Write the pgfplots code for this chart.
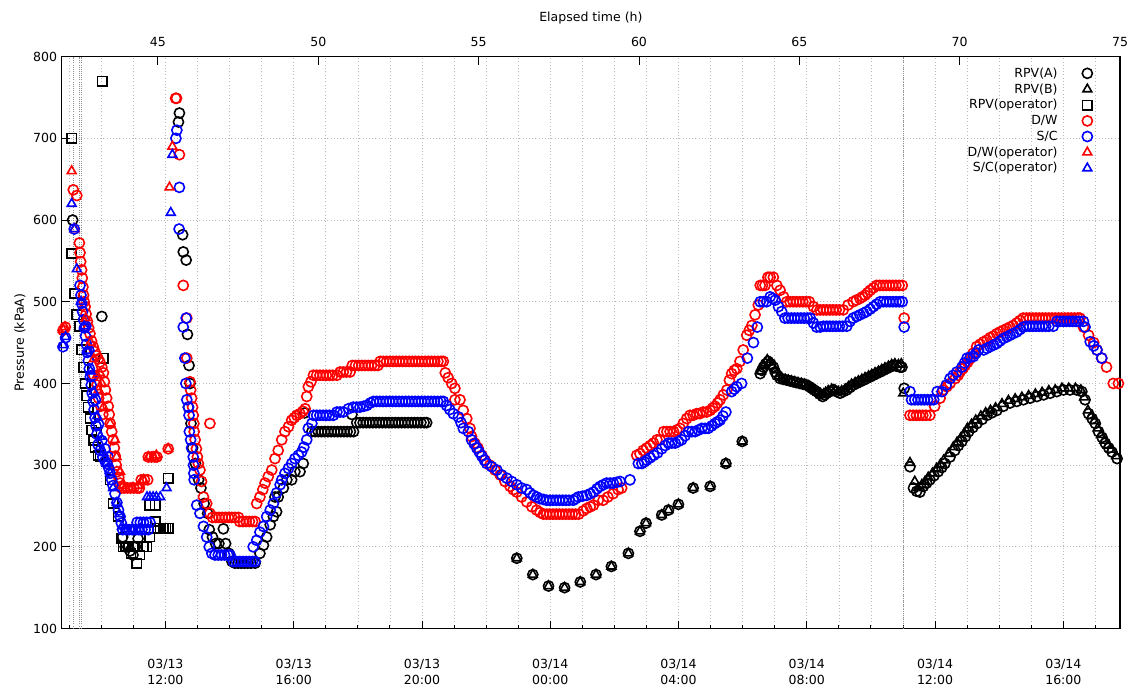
\documentclass[border=0pt]{standalone}
\usepackage{pgfplots}
\pgfplotsset{compat=1.18}
\usepackage{fontspec}
\setmainfont{DejaVu Sans}

\begin{document}
\begin{tikzpicture}[font=\fontsize{9.4}{11.6}\selectfont]
\pgfplotsset{
  every axis/.append style={scale only axis, width=793.7pt, height=428.9pt,
    xmin=42, xmax=75, ymin=100, ymax=800,
    /pgf/number format/assume math mode=true},
  pts/.style={only marks, line width=1.2pt, mark size=3.8pt, mark options={solid}},
}
\begin{axis}[
  name=main,
  axis line style={line width=0.8pt, black},
  tick style={line width=0.7pt, black},
  tick align=inside, major tick length=6pt, minor tick length=3pt,
  xtick pos=left, ytick pos=left,
  xtick={45.2333,49.2333,53.2333,57.2333,61.2333,65.2333,69.2333,73.2333},
  xticklabels={{03/13\\12:00},{03/13\\16:00},{03/13\\20:00},{03/14\\00:00},
               {03/14\\04:00},{03/14\\08:00},{03/14\\12:00},{03/14\\16:00}},
  minor xtick={42.2333,43.2333,44.2333,46.2333,47.2333,48.2333,50.2333,51.2333,52.2333,
               54.2333,55.2333,56.2333,58.2333,59.2333,60.2333,62.2333,63.2333,64.2333,
               66.2333,67.2333,68.2333,70.2333,71.2333,72.2333,74.2333},
  ytick={100,200,...,800},
  xmajorgrids, xminorgrids, ymajorgrids,
  grid style={dotted, line width=0.5pt, gray!55},
  minor grid style={dotted, line width=0.5pt, gray!55},
  xticklabel style={align=center, anchor=center, yshift=-32.6pt},
  ylabel={Pressure (kPaA)},
  ylabel style={at={(axis description cs:-0.0394,0.5)}, anchor=center},
  legend style={draw=none, fill=none, at={(1,1)}, anchor=north east,
    xshift=-17.5pt, yshift=-4pt, row sep=-0.7pt, column sep=16.5pt},
  legend cell align=right, legend plot pos=right,
]
% event lines
\addplot[forget plot, densely dotted, black!45, line width=0.6pt] coordinates {(42.36,100) (42.36,800)};
\addplot[forget plot, densely dotted, black!45, line width=0.6pt] coordinates {(42.55,100) (42.55,800)};
\addplot[forget plot, densely dotted, black!45, line width=0.6pt] coordinates {(42.62,100) (42.62,800)};
\addplot[forget plot, densely dotted, black!45, line width=0.6pt] coordinates {(68.24,100) (68.24,800)};

% RPV(A)
\addplot[pts, black, mark=o] coordinates {
(42.34,600) (43.25,482) (43.90,212) (43.98,200) (44.06,200) (44.13,195) (44.22,190) (44.30,200) (44.38,210)
(45.64,720) (45.67,731) (45.77,582) (45.79,561) (45.88,551) (45.92,460) (45.97,422) (46.00,400) (45.95,371)
(46.03,351) (46.08,321) (46.17,302) (46.27,282) (46.34,272) (46.44,253) (46.55,241) (46.60,221) (46.70,212)
(46.80,204) (46.90,204) (47.04,222) (47.11,204) (47.21,192) (47.31,182) (47.40,180) (47.50,180) (47.60,180)
(47.70,180) (47.80,180) (47.90,180) (48.03,180) (48.18,192) (48.29,202) (48.39,212) (48.50,227) (48.60,237)
(48.70,243) (48.65,261) (48.75,261) (48.91,272) (49.02,282) (49.17,282) (49.27,292) (49.43,292) (49.53,302)
(49.58,364)
(49.80,341) (49.90,341) (50.00,341) (50.10,341) (50.20,341) (50.30,341) (50.40,341) (50.50,341) (50.60,341)
(50.70,341) (50.80,341) (50.90,341) (51.00,341) (51.10,341) (51.05,362) (51.20,352) (51.30,352) (51.40,352)
(51.50,352) (51.60,352) (51.70,352) (51.80,352) (51.90,352) (52.00,352) (52.10,352) (52.20,352) (52.30,352)
(52.40,352) (52.50,352) (52.60,352) (52.70,352) (52.80,352) (52.90,352) (53.00,352) (53.10,352) (53.20,352)
(53.30,352) (53.38,352)
(56.19,186) (56.69,166) (57.18,152) (57.68,150) (58.17,157) (58.66,166) (59.14,176) (59.67,192) (60.03,219)
(60.22,229) (60.71,239) (60.92,245) (61.23,252) (61.69,272) (62.22,274) (62.71,302) (63.22,329)
(63.78,412) (63.83,416) (63.88,420) (63.95,424) (64.03,427) (64.11,424) (64.19,420) (64.25,414) (64.30,410)
(64.40,406) (64.50,405) (64.61,404) (64.71,403) (64.81,402) (64.91,401) (65.02,400) (65.12,399) (65.23,398)
(65.31,396) (65.39,394) (65.46,392) (65.54,390) (65.63,387) (65.73,384) (65.79,386) (65.85,388) (65.95,390)
(66.06,392) (66.16,390) (66.27,388) (66.37,390) (66.48,392) (66.58,395) (66.68,398) (66.79,400) (66.89,402)
(67.00,404) (67.10,406) (67.21,408) (67.31,410) (67.41,412) (67.52,414) (67.62,416) (67.72,418) (67.83,420)
(67.93,422) (68.04,421) (68.14,420) (68.20,420)
(68.27,394)
(68.45,298) (68.56,272) (68.66,268) (68.76,267) (68.87,274) (68.97,278) (69.07,282) (69.20,287) (69.33,292)
(69.44,297) (69.54,302) (69.70,310) (69.85,318) (69.96,324) (70.07,329) (70.18,335) (70.28,341) (70.41,346)
(70.54,351) (70.70,356) (70.85,361) (71.00,364) (71.16,367) (71.36,372) (71.57,376) (71.78,378) (71.99,380)
(72.20,382) (72.41,384) (72.62,386) (72.82,388) (73.03,390) (73.24,392) (73.44,392) (73.65,392) (73.81,390)
(73.91,380) (74.02,363) (74.13,357) (74.23,351) (74.33,341) (74.44,334) (74.54,327) (74.65,321) (74.75,316)
(74.91,308)
};
% RPV(B)
\addplot[pts, black, mark=triangle] coordinates {
(56.19,186) (56.69,166) (57.18,152) (57.68,150) (58.17,157) (58.66,166) (59.14,176) (59.67,192) (60.03,219)
(60.22,229) (60.71,239) (60.92,245) (61.23,252) (61.69,272) (62.22,274) (62.71,302) (63.22,329)
(63.80,415) (63.90,422) (64.00,429) (64.08,426) (64.16,421) (64.25,416) (64.35,409) (64.45,407) (64.56,405)
(64.66,404) (64.76,403) (64.86,402) (64.96,401) (65.07,400) (65.17,399) (65.28,397) (65.36,395) (65.44,393)
(65.50,391) (65.58,389) (65.68,386) (65.76,387) (65.82,389) (65.90,391) (66.01,393) (66.11,392) (66.22,390)
(66.32,391) (66.43,393) (66.53,396) (66.63,399) (66.74,401) (66.84,403) (66.95,405) (67.05,407) (67.16,409)
(67.26,411) (67.36,413) (67.47,415) (67.57,417) (67.67,419) (67.78,421) (67.88,423) (67.98,424) (68.09,423)
(68.18,424)
(68.24,388)
(68.45,303) (68.60,280) (68.70,272) (68.82,276) (68.92,280) (69.02,285) (69.15,290) (69.28,296) (69.40,301)
(69.50,306) (69.65,314) (69.80,322) (69.92,328) (70.03,333) (70.14,339) (70.24,345) (70.37,350) (70.50,355)
(70.66,360) (70.81,364) (70.96,367) (71.12,370) (71.32,375) (71.52,379) (71.73,381) (71.94,383) (72.15,385)
(72.36,387) (72.57,389) (72.78,391) (72.98,392) (73.19,394) (73.40,394) (73.61,394) (73.78,392) (73.88,383)
(74.00,367) (74.10,360) (74.20,354) (74.30,345) (74.41,337) (74.51,330) (74.62,324) (74.72,319) (74.88,311)
};
% RPV(operator)
\addplot[pts, black, mark=square, mark size=3.5pt] coordinates {
(42.31,700) (42.31,559) (42.41,510) (42.47,484) (42.55,470) (42.62,441) (42.68,420) (42.73,400) (42.78,385)
(42.83,371) (42.89,357) (42.94,343) (43.00,330) (43.04,322) (43.14,312) (43.10,340) (43.20,310) (43.26,770)
(43.30,431) (43.51,282) (43.61,253) (43.76,237) (43.87,210) (43.92,200) (44.00,200) (44.08,200) (44.16,192)
(44.24,200) (44.34,180) (44.44,190) (44.55,200) (44.65,200) (44.75,212) (44.75,251) (44.91,251) (44.91,231)
(45.00,223) (45.07,223) (45.17,223) (45.25,223) (45.32,223) (45.32,284)
};
% D/W
\addplot[pts, red, mark=o] coordinates {
(42.04,465) (42.11,469) (42.36,637) (42.47,630) (42.55,572) (42.57,560) (42.59,549) (42.62,539) (42.64,529)
(42.66,518) (42.68,508) (42.70,500) (42.73,494) (42.76,485) (42.80,476) (42.84,468) (42.88,461) (42.93,452)
(42.98,445) (43.03,439) (43.08,434) (43.14,430) (43.19,426) (43.25,420) (43.30,413) (43.33,402) (43.36,392)
(43.40,382) (43.45,372) (43.48,362) (43.51,351) (43.56,341) (43.60,331) (43.64,321) (43.67,311) (43.70,300)
(43.73,292) (43.78,285) (43.82,278) (43.86,272) (43.95,272) (44.05,272) (44.15,272) (44.25,272) (44.35,272)
(44.42,272) (44.48,282) (44.58,282) (44.68,282) (44.70,310) (44.80,310) (44.90,310) (44.97,310) (45.32,320)
(43.00,410) (43.10,398) (43.15,382) (43.22,372) (43.28,362)
(45.55,749) (45.58,749) (45.67,680) (45.79,520) (45.90,480) (45.90,431) (46.00,402) (46.02,392) (46.05,382)
(46.08,371) (46.10,361) (46.12,351) (46.13,341) (46.16,331) (46.20,320) (46.23,310) (46.26,302) (46.31,294)
(46.36,280) (46.42,261) (46.52,253) (46.62,351) (46.62,241) (46.70,236) (46.80,236) (46.90,236) (47.00,236)
(47.10,236) (47.20,236) (47.30,236) (47.40,236) (47.51,236) (47.55,231) (47.65,231) (47.75,231) (47.85,231)
(47.95,231) (48.03,231)
(48.08,253) (48.18,261) (48.27,270) (48.34,278) (48.44,286) (48.55,294) (48.65,308) (48.75,318) (48.86,331)
(48.96,341) (49.07,347) (49.17,355) (49.25,358) (49.33,361) (49.43,363) (49.52,366) (49.59,369) (49.64,384)
(49.69,396) (49.77,402) (49.85,410) (49.95,410) (50.05,410) (50.15,410) (50.25,410) (50.35,410) (50.45,410)
(50.58,410) (50.68,414) (50.78,414) (50.88,414) (50.99,414) (51.06,422) (51.16,422) (51.26,422) (51.36,422)
(51.46,422) (51.56,422) (51.66,422) (51.76,422) (51.86,422) (51.93,427) (52.03,427) (52.13,427) (52.23,427)
(52.33,427) (52.43,427) (52.53,427) (52.63,427) (52.73,427) (52.83,427) (52.93,427) (53.03,427) (53.13,427)
(53.23,427) (53.33,427) (53.43,427) (53.53,427) (53.63,427) (53.73,427) (53.83,427) (53.90,427)
(53.96,413) (54.05,407) (54.16,400) (54.26,394) (54.26,380) (54.42,380) (54.52,367) (54.63,357) (54.73,345)
(54.78,335) (54.88,327) (54.98,321) (55.10,312) (55.20,306) (55.35,300) (55.51,294) (55.67,288) (55.82,280)
(55.98,274) (56.08,270) (56.19,267) (56.34,261) (56.50,255) (56.66,249) (56.81,245) (56.92,242) (57.02,240)
(57.12,240) (57.22,240) (57.32,240) (57.42,240) (57.52,240) (57.62,240) (57.72,240) (57.82,240) (57.92,240)
(58.02,240) (58.12,240) (58.26,244) (58.37,247) (58.48,249) (58.58,251) (58.73,257) (58.88,257) (59.03,261)
(59.19,265) (59.35,270) (59.46,272)
(59.93,312) (60.03,314) (60.13,318) (60.24,321) (60.35,324) (60.45,327) (60.56,331) (60.66,331) (60.77,341)
(60.87,341) (60.97,341) (61.08,341) (61.18,343) (61.28,345) (61.38,351) (61.49,357) (61.59,361) (61.69,361)
(61.80,363) (61.90,363) (62.00,365) (62.11,365) (62.22,367) (62.30,370) (62.37,372) (62.45,376) (62.53,380)
(62.63,386) (62.74,392) (62.82,404) (62.89,412) (62.97,416) (63.05,418) (63.15,427) (63.25,441) (63.36,459)
(63.44,465) (63.52,471) (63.62,484) (63.72,496) (63.78,520) (63.85,520) (63.93,520) (64.02,530) (64.09,530)
(64.19,530) (64.30,520) (64.40,514) (64.51,506) (64.61,500) (64.71,500) (64.81,500) (64.91,500) (65.01,500)
(65.11,500) (65.21,500) (65.31,500) (65.44,494) (65.55,490) (65.65,490) (65.75,490) (65.85,490) (65.95,490)
(66.05,490) (66.15,490) (66.25,490) (66.37,490) (66.52,496) (66.68,500) (66.78,502) (66.89,504) (66.97,506)
(67.05,508) (67.13,511) (67.21,514) (67.31,517) (67.41,520) (67.51,520) (67.61,520) (67.71,520) (67.81,520)
(67.91,520) (68.01,520) (68.11,520) (68.21,520)
(68.27,480)
(68.45,361) (68.55,361) (68.65,361) (68.75,361) (68.85,361) (68.95,361) (69.07,361) (69.22,372) (69.39,382)
(69.49,392) (69.60,396) (69.70,400) (69.86,406) (69.95,410) (70.01,414) (70.10,418) (70.17,422) (70.25,426)
(70.32,430) (70.42,437) (70.53,445) (70.64,448) (70.75,451) (70.85,453) (70.95,456) (71.05,458) (71.16,461)
(71.26,463) (71.36,465) (71.47,467) (71.57,469) (71.67,471) (71.78,474) (71.88,477) (71.98,480) (72.08,480)
(72.18,480) (72.28,480) (72.38,480) (72.48,480) (72.58,480) (72.68,480) (72.78,480) (72.88,480) (72.98,480)
(73.08,480) (73.18,480) (73.28,480) (73.38,480) (73.48,480) (73.58,480) (73.68,480) (73.75,480) (73.86,469)
(74.02,459) (74.18,450) (74.28,441) (74.43,431) (74.58,420) (74.79,400) (74.95,400)
};
% S/C
\addplot[pts, blue, mark=o] coordinates {
(42.04,445) (42.12,456) (42.39,589) (42.57,520) (42.60,508) (42.62,498) (42.65,488) (42.68,478) (42.71,468)
(42.74,458) (42.77,448) (42.80,438) (42.83,428) (42.86,418) (42.89,408) (42.92,398) (42.95,388) (42.98,378)
(43.01,368) (43.04,358) (43.07,348) (43.10,338) (43.13,325) (43.20,318) (43.28,310) (43.35,305) (43.41,302)
(43.47,296) (43.51,290) (43.56,282) (43.60,275) (43.66,265) (43.72,254) (43.77,245) (43.82,237) (43.86,229)
(43.90,221) (44.00,221) (44.10,221) (44.20,221) (44.30,221) (44.40,221) (44.50,221) (44.60,221) (44.70,221)
(44.35,230) (44.45,230) (44.55,230) (44.65,230) (44.75,230)
(42.75,470) (42.85,440) (42.95,410) (43.05,380) (43.15,350) (43.25,330) (43.35,320) (43.45,310)
(45.56,700) (45.59,710) (45.67,640) (45.66,589) (45.79,469) (45.84,431) (45.88,480) (45.87,400) (45.90,380)
(45.95,371) (45.97,361) (45.98,341) (46.02,331) (46.05,321) (46.10,310) (46.11,300) (46.12,290) (46.13,282)
(46.21,251) (46.31,241) (46.42,225) (46.52,212) (46.60,200) (46.68,192) (46.78,190) (46.88,190) (46.98,190)
(47.08,190) (47.18,190) (47.25,190) (47.35,182) (47.45,182) (47.55,182) (47.65,182) (47.75,182) (47.85,182)
(47.95,182) (48.03,182)
(47.97,200) (48.08,208) (48.18,218) (48.29,225) (48.39,237) (48.50,245) (48.60,253) (48.70,266) (48.81,276)
(48.86,282) (48.96,290) (49.07,296) (49.17,302) (49.27,308) (49.38,312) (49.48,316) (49.55,322) (49.64,331)
(49.69,345) (49.80,351) (49.85,361) (49.95,361) (50.05,361) (50.15,361) (50.25,361) (50.35,361) (50.47,361)
(50.58,365) (50.68,365) (50.78,365) (50.94,369) (51.09,371) (51.20,371) (51.30,371) (51.41,372) (51.51,373)
(51.62,376) (51.72,378) (51.82,378) (51.92,378) (52.02,378) (52.12,378) (52.22,378) (52.32,378) (52.42,378)
(52.52,378) (52.62,378) (52.72,378) (52.82,378) (52.92,378) (53.02,378) (53.12,378) (53.22,378) (53.32,378)
(53.42,378) (53.52,378) (53.62,378) (53.72,378) (53.82,378) (53.90,378)
(54.00,373) (54.10,368) (54.21,363) (54.37,359) (54.45,352) (54.52,345) (54.68,341) (54.78,331) (54.86,326)
(54.94,321) (55.02,316) (55.10,311) (55.18,306) (55.25,302) (55.41,298) (55.57,294) (55.72,288) (55.88,284)
(56.03,280) (56.19,276) (56.34,272) (56.50,270) (56.60,266) (56.71,263) (56.81,261) (56.91,259) (57.02,258)
(57.12,257) (57.22,257) (57.32,257) (57.42,257) (57.52,257) (57.62,257) (57.72,257) (57.82,257) (57.95,257)
(58.03,259) (58.11,261) (58.24,262) (58.37,263) (58.48,265) (58.58,267) (58.69,271) (58.79,274) (58.89,276)
(58.99,278) (59.10,278) (59.20,278) (59.31,279) (59.41,280) (59.72,282)
(59.98,302) (60.09,302) (60.17,304) (60.24,306) (60.35,309) (60.46,312) (60.58,315) (60.71,320) (60.82,324)
(60.92,327) (61.02,327) (61.13,327) (61.23,329) (61.33,331) (61.44,336) (61.54,341) (61.65,341) (61.75,341)
(61.86,343) (61.96,345) (62.06,345) (62.16,345) (62.27,348) (62.37,351) (62.45,353) (62.53,355) (62.62,360)
(62.71,365) (62.89,390) (62.97,393) (63.05,396) (63.20,400) (63.38,431) (63.57,450) (63.69,469) (63.78,500)
(63.88,500) (63.98,500) (64.09,506) (64.17,504) (64.25,502) (64.35,494) (64.45,488) (64.55,480) (64.65,480)
(64.75,480) (64.85,480) (64.95,480) (65.05,480) (65.15,480) (65.25,480) (65.34,480) (65.44,474) (65.54,469)
(65.65,469) (65.75,470) (65.85,470) (65.95,470) (66.05,470) (66.15,470) (66.25,470) (66.35,470) (66.48,470)
(66.58,476) (66.68,480) (66.79,482) (66.89,484) (67.00,486) (67.10,488) (67.21,491) (67.31,494) (67.41,497)
(67.52,500) (67.62,500) (67.72,500) (67.82,500) (67.92,500) (68.02,500) (68.12,500) (68.21,500)
(68.27,469)
(68.45,390) (68.50,380) (68.60,380) (68.70,380) (68.80,380) (68.90,380) (69.00,380) (69.10,380) (69.19,380)
(69.30,390) (69.45,390) (69.58,398) (69.70,406) (69.80,410) (69.91,414) (70.07,420) (70.15,425) (70.23,431)
(70.33,432) (70.43,433) (70.51,437) (70.59,441) (70.75,441) (70.85,443) (70.95,445) (71.06,447) (71.16,449)
(71.26,452) (71.36,455) (71.47,457) (71.57,459) (71.67,461) (71.78,463) (71.88,466) (71.98,469) (72.08,470)
(72.18,470) (72.28,470) (72.38,470) (72.48,470) (72.58,470) (72.68,470) (72.78,470) (72.92,470) (73.03,476)
(73.13,476) (73.23,476) (73.33,476) (73.43,476) (73.53,476) (73.63,476) (73.73,476) (73.86,476) (73.91,469)
(74.07,451) (74.18,446) (74.28,441) (74.43,431)
};
% D/W(operator)
\addplot[pts, red, mark=triangle] coordinates {
(42.04,466) (42.10,469) (42.31,660) (42.40,589) (42.75,480) (42.90,450) (43.00,430) (43.10,410) (43.19,413)
(43.25,400) (43.15,392) (43.30,371) (43.51,351) (43.66,331) (43.71,310) (43.82,292) (43.90,275) (44.00,272)
(44.20,272) (44.40,275) (44.55,282) (44.70,310) (44.85,310) (44.95,312) (45.32,320) (45.36,640) (45.45,690)
};
% S/C(operator)
\addplot[pts, blue, mark=triangle] coordinates {
(42.04,447) (42.12,457) (42.31,620) (42.39,589) (42.47,540) (42.60,500) (42.70,470) (42.80,440) (42.90,415)
(43.00,390) (43.10,360) (43.20,335) (43.30,315) (43.40,302) (43.51,290) (43.60,272) (43.72,254) (43.80,240)
(43.88,225) (44.00,222) (44.20,222) (44.45,222) (44.66,261) (44.75,261) (44.85,261) (44.95,261) (45.07,261)
(45.27,272) (45.40,609) (45.45,680)
};
\legend{RPV(A),RPV(B),RPV(operator),D/W,S/C,D/W(operator),S/C(operator)}
\end{axis}
\begin{axis}[
  axis x line*=top, axis y line=none,
  axis line style={line width=0.8pt, black},
  tick style={line width=0.7pt, black},
  tick align=inside, major tick length=6pt,
  xtick={45,50,...,75},
  xticklabel style={anchor=center, yshift=11.25pt},
  xlabel={Elapsed time (h)},
  xlabel style={at={(axis description cs:0.5,1.067)}, anchor=center},
]
\end{axis}
\pgfresetboundingbox
\path[use as bounding box] ([shift={(-46.3pt,-43.1pt)}]main.south west) rectangle ([shift={(9pt,42.5pt)}]main.north east);
\end{tikzpicture}
\end{document}
